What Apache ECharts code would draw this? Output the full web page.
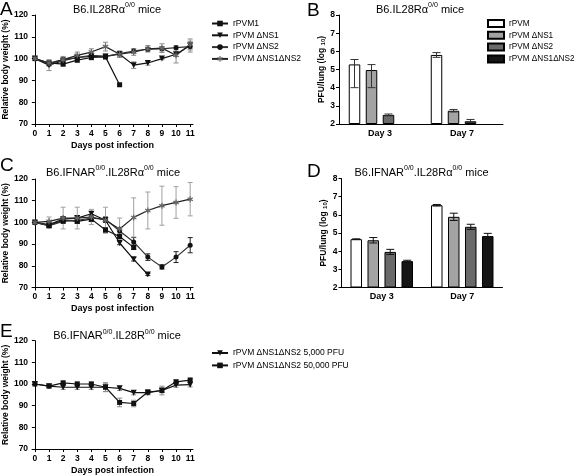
<!DOCTYPE html>
<html><head><meta charset="utf-8">
<script src="https://cdn.jsdelivr.net/npm/echarts@6/dist/echarts.min.js"></script>
<style>html,body{margin:0;padding:0;background:#fff}#c{width:576px;height:476px}</style>
</head><body><div id="c"></div>
<script>
// ---------- data ----------
const days = [0,1,2,3,4,5,6,7,8,9,10,11];
const xName = 'Days post infection';
const yNameWeight = 'Relative body weight (%)';
const barCats = ['Day 3', 'Day 7'];
const lineNames = ['rPVM1', 'rPVM \u0394NS1', 'rPVM \u0394NS2', 'rPVM \u0394NS1\u0394NS2'];
const barNames = ['rPVM', 'rPVM \u0394NS1', 'rPVM \u0394NS2', 'rPVM \u0394NS1\u0394NS2'];
const eNames = ['rPVM \u0394NS1\u0394NS2 5,000 PFU', 'rPVM \u0394NS1\u0394NS2 50,000 PFU'];

// Panel A
const A_rPVM1     = [100, 98, 97.5, 99.3, 100.5, 100.8, 88];
const A_dNS1      = [100, 97, 99, 100.5, 101, 101, 102, 97, 98, 100, 102, 106];
const A_dNS2      = [100, 97.5, 99.5, 100.5, 101.5, 101, 102.3, 103.5, 104.3, 104.5, 105, 105.5];
const A_dNS1dNS2  = [100, 98, 99.5, 101.5, 103, 105.5, 102, 103, 104.5, 104.8, 101.5, 106.5];
const A_rPVM1_err    = [0, 1, 1, 1, 1, 1, 0.5];
const A_dNS1_err     = [0, 2.5, 1, 1, 1.5, 1, 1, 1.5, 1, 0.5, 1, 1.5];
const A_dNS2_err     = [0, 1, 1, 1, 1, 1, 1, 1, 1, 1, 1, 2.5];
const A_dNS1dNS2_err = [0, 1, 1.5, 1.5, 1.5, 2, 1.5, 1.5, 1.5, 2, 3.5, 2.5];

// Panel C
const C_rPVM1     = [100, 98.5, 101, 100.5, 101.5, 96.5, 93.5, 88.5];
const C_dNS1      = [100, 99, 101.5, 102, 104, 101, 90.5, 83, 76];
const C_dNS2      = [100, 98.5, 100.5, 101, 102, 101.5, 96, 91, 84, 79.5, 84, 89.5];
const C_dNS1dNS2  = [100, 100.5, 102, 102, 102.5, 101, 97, 102.3, 105.5, 107.7, 109.2, 110.7];
const C_rPVM1_err    = [0, 0.8, 1, 1, 1, 1, 1, 1];
const C_dNS1_err     = [0, 0.8, 1, 1, 1, 1, 0.8, 0.8, 0.5];
const C_dNS2_err     = [0, 1, 1, 1, 1.5, 1, 1.5, 2, 1.5, 1, 2.5, 3.5];
const C_dNS1dNS2_err = [0, 2, 5, 5, 3.5, 6, 5, 9, 8.5, 9, 7.3, 7.7];

// Panel E
const E_5000      = [100, 99, 98.5, 98.5, 98.5, 98.5, 98, 96, 96, 97, 99.5, 99.7];
const E_50000     = [100, 99, 100.5, 100, 100, 98.5, 91.5, 91, 96.3, 97, 101, 101.8];
const E_5000_err  = [0, 0.5, 1, 1, 1, 2, 1, 1, 1, 2, 1, 1];
const E_50000_err = [0, 0.5, 1, 1, 1, 2, 2, 1.5, 1, 1, 1, 1];

// Panel B (log10 PFU/lung) with error low/high
const B_rPVM      = [5.28, 5.8];
const B_rPVM_lo   = [4.0, 5.67];
const B_rPVM_hi   = [5.55, 5.93];
const B_dNS1      = [4.97, 2.73];
const B_dNS1_lo   = [4.0, 2.66];
const B_dNS1_hi   = [5.27, 2.8];
const B_dNS2      = [2.5, 2.15];
const B_dNS2_lo   = [2.45, 2.08];
const B_dNS2_hi   = [2.55, 2.25];
const B_dNS1dNS2  = [null, null];

// Panel D
const D_rPVM      = [4.66, 6.53];
const D_rPVM_err  = [0.02, 0.04];
const D_dNS1      = [4.6, 5.89];
const D_dNS1_err  = [0.15, 0.2];
const D_dNS2      = [3.96, 5.34];
const D_dNS2_err  = [0.14, 0.14];
const D_dNS1dNS2  = [3.45, 4.83];
const D_dNS1dNS2_err = [0.05, 0.15];

// ---------- styling ----------
const FONT = '"Liberation Sans", Arial, Helvetica, sans-serif';
const STAR = 'path://M-1,-5 L1,-5 L1,5 L-1,5 Z M3.83,3.37 L-4.83,-1.63 L-3.83,-3.37 L4.83,1.63 Z M4.83,-1.63 L-3.83,3.37 L-4.83,1.63 L3.83,-3.37 Z';
const BAR_COLORS = ['#ffffff', '#a3a3a3', '#6a6a6a', '#161616'];
const BAR_W = 11.5, BAR_GAP = 5.5;
const BAR_PREFIX = 'bar:';

const grids = [
  {left: 32, top: 15, width: 161, height: 109},      // A
  {left: 339, top: 15, width: 164, height: 109},     // B
  {left: 32, top: 179, width: 161, height: 108.5},   // C
  {left: 341.5, top: 178.5, width: 161, height: 109},// D
  {left: 32, top: 340.7, width: 161, height: 110}    // E
];

const axisLineStyle = {color: '#000', width: 1};
const tickLabel = {fontSize: 8.5, fontWeight: 'bold', color: '#000', fontFamily: FONT};

function xDays(gi) {
  return {
    type: 'value', gridIndex: gi, min: -0.2, max: 11.2,
    axisLine: {show: true, onZero: false, lineStyle: axisLineStyle},
    axisTick: {show: true, length: 3, customValues: days, lineStyle: axisLineStyle},
    axisLabel: Object.assign({customValues: days, margin: 5}, tickLabel),
    splitLine: {show: false},
    name: xName, nameLocation: 'middle', nameGap: 17,
    nameTextStyle: {fontSize: 9, fontWeight: 'bold', color: '#000', fontFamily: FONT}
  };
}
function yWeight(gi) {
  return {
    type: 'value', gridIndex: gi, min: 70, max: 120, interval: 10,
    axisLine: {show: true, lineStyle: axisLineStyle},
    axisTick: {show: true, length: 3, lineStyle: axisLineStyle},
    axisLabel: Object.assign({margin: 4}, tickLabel),
    splitLine: {show: false},
    name: yNameWeight, nameLocation: 'middle', nameGap: 20, nameRotate: 90,
    nameTextStyle: {fontSize: 8.5, fontWeight: 'bold', color: '#000', fontFamily: FONT}
  };
}
function xCat(gi) {
  return {
    type: 'category', gridIndex: gi, data: barCats,
    axisLine: {show: true, lineStyle: axisLineStyle},
    axisTick: {show: false},
    axisLabel: Object.assign({margin: 5}, tickLabel, {fontSize: 9}),
    splitLine: {show: false}
  };
}
function yPfu(gi) {
  return {
    type: 'value', gridIndex: gi, min: 2, max: 8, interval: 1, startValue: 2,
    axisLine: {show: true, lineStyle: axisLineStyle},
    axisTick: {show: true, length: 3, lineStyle: axisLineStyle},
    axisLabel: Object.assign({margin: 4}, tickLabel),
    splitLine: {show: false},
    name: 'PFU/lung (log {sub|10})', nameLocation: 'middle', nameGap: 13, nameRotate: 90,
    nameTextStyle: {fontSize: 8.5, fontWeight: 'bold', color: '#000', fontFamily: FONT,
      rich: {sub: {fontSize: 6, fontWeight: 'bold', fontFamily: FONT, color: '#000', verticalAlign: 'bottom', padding: [3, 0, 0, 0]}}}
  };
}

const lineStyles = [
  {symbol: 'rect', symbolSize: 5, color: '#111', lineColor: '#111'},
  {symbol: 'triangle', symbolSize: 6, symbolRotate: 180, color: '#111', lineColor: '#111'},
  {symbol: 'circle', symbolSize: 5, color: '#111', lineColor: '#333'},
  {symbol: STAR, symbolSize: 6, color: '#666', lineColor: '#222'}
];

function pairs(arr) { return arr.map((v, i) => [days[i], v]); }
function errData(arr, err) { return arr.map((v, i) => [days[i], v - err[i], v + err[i]]); }

function lineSeries(name, arr, st, gi) {
  return {
    type: 'line', name: name, xAxisIndex: gi, yAxisIndex: gi, data: pairs(arr),
    symbol: st.symbol, symbolSize: st.symbolSize, symbolRotate: st.symbolRotate || 0,
    itemStyle: {color: st.color},
    lineStyle: {color: st.lineColor, width: 1.2},
    z: 5, animation: false, silent: true
  };
}
function errSeries(arr, err, gi, color, capW) {
  return {
    type: 'custom', xAxisIndex: gi, yAxisIndex: gi, data: errData(arr, err),
    z: 3, animation: false, silent: true,
    renderItem: function (params, api) {
      const x = api.value(0), lo = api.value(1), hi = api.value(2);
      if (hi - lo <= 0.0001) return null;
      const p1 = api.coord([x, lo]), p2 = api.coord([x, hi]);
      const style = {stroke: color, lineWidth: 1};
      return {type: 'group', children: [
        {type: 'line', shape: {x1: p1[0], y1: p1[1], x2: p2[0], y2: p2[1]}, style: style},
        {type: 'line', shape: {x1: p1[0] - capW / 2, y1: p1[1], x2: p1[0] + capW / 2, y2: p1[1]}, style: style},
        {type: 'line', shape: {x1: p2[0] - capW / 2, y1: p2[1], x2: p2[0] + capW / 2, y2: p2[1]}, style: style}
      ]};
    }
  };
}
function barSeries(name, arr, k, gi) {
  return {
    type: 'bar', name: BAR_PREFIX + name, xAxisIndex: gi, yAxisIndex: gi, data: arr,
    barWidth: BAR_W, barGap: (BAR_GAP / BAR_W * 100).toFixed(1) + '%',
    itemStyle: {color: BAR_COLORS[k], borderColor: '#000', borderWidth: 1},
    z: 2, animation: false, silent: true
  };
}
function barErr(lo, hi, k, gi, color) {
  const data = lo.map((l, i) => [i, l, hi[i], k]);
  return {
    type: 'custom', xAxisIndex: gi, yAxisIndex: gi, data: data, z: 4,
    animation: false, silent: true,
    renderItem: function (params, api) {
      const c = api.value(0), l = api.value(1), h = api.value(2), slot = api.value(3);
      const off = (slot - 1.5) * (BAR_W + BAR_GAP);
      const p1 = api.coord([c, l]), p2 = api.coord([c, h]);
      const x = p1[0] + off, capW = 8;
      const style = {stroke: color, lineWidth: 1};
      return {type: 'group', children: [
        {type: 'line', shape: {x1: x, y1: p1[1], x2: x, y2: p2[1]}, style: style},
        {type: 'line', shape: {x1: x - capW / 2, y1: p1[1], x2: x + capW / 2, y2: p1[1]}, style: style},
        {type: 'line', shape: {x1: x - capW / 2, y1: p2[1], x2: x + capW / 2, y2: p2[1]}, style: style}
      ]};
    }
  };
}
function symErr(vals, err) { return [vals.map((v, i) => v - err[i]), vals.map((v, i) => v + err[i])]; }

const GRAY = '#8c8c8c', DARK = '#222';
const series = [];
// A
[A_rPVM1, A_dNS1, A_dNS2, A_dNS1dNS2].forEach((arr, i) => {
  series.push(lineSeries(lineNames[i], arr, lineStyles[i], 0));
});
series.push(errSeries(A_rPVM1, A_rPVM1_err, 0, GRAY, 5));
series.push(errSeries(A_dNS1, A_dNS1_err, 0, GRAY, 5));
series.push(errSeries(A_dNS2, A_dNS2_err, 0, GRAY, 5));
series.push(errSeries(A_dNS1dNS2, A_dNS1dNS2_err, 0, GRAY, 5));
// C
[C_rPVM1, C_dNS1, C_dNS2, C_dNS1dNS2].forEach((arr, i) => {
  series.push(lineSeries(lineNames[i], arr, lineStyles[i], 2));
});
series.push(errSeries(C_rPVM1, C_rPVM1_err, 2, DARK, 5));
series.push(errSeries(C_dNS1, C_dNS1_err, 2, DARK, 5));
series.push(errSeries(C_dNS2, C_dNS2_err, 2, DARK, 5));
series.push(errSeries(C_dNS1dNS2, C_dNS1dNS2_err, 2, '#a0a0a0', 5));
// E
series.push(lineSeries(eNames[0], E_5000, lineStyles[1], 4));
series.push(lineSeries(eNames[1], E_50000, lineStyles[0], 4));
series.push(errSeries(E_5000, E_5000_err, 4, GRAY, 5));
series.push(errSeries(E_50000, E_50000_err, 4, GRAY, 5));
// B
[B_rPVM, B_dNS1, B_dNS2, B_dNS1dNS2].forEach((arr, k) => series.push(barSeries(barNames[k], arr, k, 1)));
series.push(barErr(B_rPVM_lo, B_rPVM_hi, 0, 1, '#333'));
series.push(barErr(B_dNS1_lo, B_dNS1_hi, 1, 1, '#333'));
series.push(barErr(B_dNS2_lo, B_dNS2_hi, 2, 1, '#333'));
// D
[D_rPVM, D_dNS1, D_dNS2, D_dNS1dNS2].forEach((arr, k) => series.push(barSeries(barNames[k], arr, k, 3)));
[[D_rPVM, D_rPVM_err], [D_dNS1, D_dNS1_err], [D_dNS2, D_dNS2_err], [D_dNS1dNS2, D_dNS1dNS2_err]].forEach((p, k) => {
  const e = symErr(p[0], p[1]);
  series.push(barErr(e[0], e[1], k, 3, '#111'));
});

const legendText = {fontSize: 8.5, color: '#000', fontFamily: FONT, lineHeight: 9};
const legends = [
  {orient: 'vertical', left: 206, top: 14, itemWidth: 16, itemHeight: 7, itemGap: 2.8,
   data: lineNames, textStyle: legendText, selectedMode: false},
  {orient: 'vertical', left: 482, top: 14, itemWidth: 16, itemHeight: 7, itemGap: 2.8,
   data: barNames.map(n => ({name: BAR_PREFIX + n, icon: 'rect'})),
   formatter: function (n) { return n.replace(BAR_PREFIX, ''); },
   textStyle: Object.assign({}, legendText, {fontSize: 8.2}), selectedMode: false},
  {orient: 'vertical', left: 206, top: 343.5, itemWidth: 16, itemHeight: 7, itemGap: 3.4,
   data: eNames, textStyle: legendText, selectedMode: false}
];

const titleRich = {
  m: {fontSize: 11, fontFamily: FONT, color: '#000', verticalAlign: 'bottom', lineHeight: 13},
  s: {fontSize: 7, fontFamily: FONT, color: '#000', verticalAlign: 'top', lineHeight: 13}
};
function titleText(x, y, txt) {
  return {type: 'text', x: x, y: y, silent: true,
    style: {text: txt, rich: titleRich, align: 'center', verticalAlign: 'middle'}};
}
function letter(x, y, t) {
  return {type: 'text', x: x, y: y, silent: true,
    style: {text: t, fontSize: 19, fontFamily: FONT, fill: '#000', align: 'left', verticalAlign: 'top'}};
}
const graphics = [
  titleText(117, 8.5, '{m|B6.IL28R\u03b1}{s|0/0}{m| mice}'),
  titleText(420, 8.5, '{m|B6.IL28R\u03b1}{s|0/0}{m| mice}'),
  titleText(113, 171.5, '{m|B6.IFNAR}{s|0/0}{m|.IL28R\u03b1}{s|0/0}{m| mice}'),
  titleText(421.5, 171.5, '{m|B6.IFNAR}{s|0/0}{m|.IL28R\u03b1}{s|0/0}{m| mice}'),
  titleText(117, 335, '{m|B6.IFNAR}{s|0/0}{m|.IL28R}{s|0/0}{m| mice}'),
  letter(0, 0, 'A'), letter(307, 1, 'B'), letter(0, 156, 'C'), letter(307, 162, 'D'), letter(0, 322, 'E')
];

const chart = echarts.init(document.getElementById('c'), null, {renderer: 'canvas'});
chart.setOption({
  animation: false,
  backgroundColor: '#fff',
  textStyle: {fontFamily: FONT},
  grid: grids,
  xAxis: [xDays(0), xCat(1), xDays(2), xCat(3), xDays(4)],
  yAxis: [yWeight(0), yPfu(1), yWeight(2), yPfu(3), yWeight(4)],
  legend: legends,
  graphic: graphics,
  series: series
});
</script>
</body></html>
